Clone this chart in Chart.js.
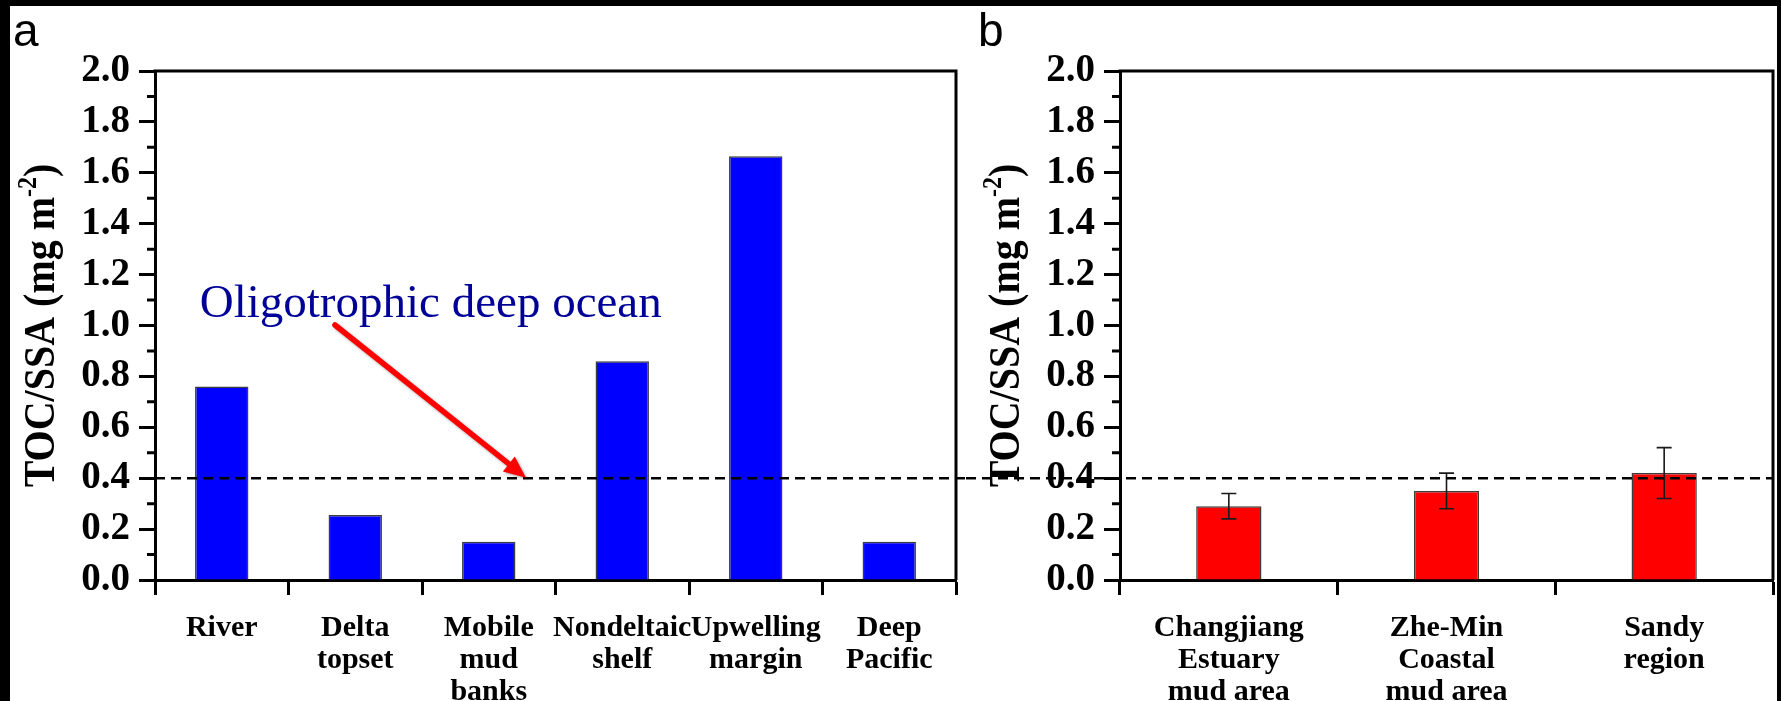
<!DOCTYPE html>
<html>
<head>
<meta charset="utf-8">
<script src="https://cdn.jsdelivr.net/npm/chart.js@4.4.1/dist/chart.umd.min.js"></script>
<style>
html, body { margin:0; padding:0; background:#000; width:1781px; height:701px; overflow:hidden; }
#sheet { position:absolute; left:10px; top:6px; width:1767px; height:695px; background:#fff; }
#ca { position:absolute; left:0; top:0; width:956px; height:695px; }
#cb { position:absolute; left:956px; top:0; width:811px; height:695px; }
</style>
</head>
<body>
<div id="sheet">
  <canvas id="ca" width="956" height="695"></canvas>
  <canvas id="cb" width="811" height="695"></canvas>
</div>
<script>
// ---------- data ----------
const categoriesA = [['River'], ['Delta', 'topset'], ['Mobile', 'mud', 'banks'], ['Nondeltaic', 'shelf'], ['Upwelling', 'margin'], ['Deep', 'Pacific']];
const valuesA = [0.76, 0.255, 0.15, 0.86, 1.665, 0.15];

const categoriesB = [['Changjiang', 'Estuary', 'mud area'], ['Zhe-Min', 'Coastal', 'mud area'], ['Sandy', 'region']];
const valuesB = [0.29, 0.35, 0.42];
const errorsB = [0.05, 0.07, 0.10];

const yMin = 0, yMax = 2.0, yStep = 0.2;
const minorTicks = [0.1, 0.3, 0.5, 0.7, 0.9, 1.1, 1.3, 1.5, 1.7, 1.9];
const thresholdValue = 0.4;

const annotationText = 'Oligotrophic deep ocean';
const annotationAnchor = [-0.165, 1.033];          // [category index, value]
const arrowFrom = [0.848, 1.002];                  // [category index, value]
const arrowTo = [2.279, 0.402];

const yTitle = ['TOC/SSA (mg m', '-2', ')'];

// ---------- styling ----------
const SERIF = "'Liberation Serif', 'Times New Roman', serif";
const SANS = "'Liberation Sans', Arial, sans-serif";

function drawYTitle(ctx, x, yc) {
  ctx.save();
  ctx.translate(x, yc);
  ctx.rotate(-Math.PI / 2);
  ctx.scale(1, 1.12);
  const mainF = 'bold 40px ' + SERIF, supF = 'bold 24px ' + SERIF;
  ctx.font = mainF;
  const w1 = ctx.measureText(yTitle[0]).width, w3 = ctx.measureText(yTitle[2]).width;
  ctx.font = supF;
  const w2 = ctx.measureText(yTitle[1]).width;
  let cx = -(w1 + w2 + w3) / 2;
  ctx.fillStyle = '#000';
  ctx.textBaseline = 'alphabetic';
  ctx.textAlign = 'left';
  ctx.font = mainF; ctx.fillText(yTitle[0], cx, 0); cx += w1;
  ctx.font = supF; ctx.fillText(yTitle[1], cx, -16); cx += w2;
  ctx.font = mainF; ctx.fillText(yTitle[2], cx, 0);
  ctx.restore();
}

function panelPlugin(cfg) {
  return {
    id: 'panel_' + cfg.letter,
    afterDatasetsDraw(chart) {
      const ctx = chart.ctx;
      const ys = chart.scales.y;
      if (cfg.errors) {
        const meta = chart.getDatasetMeta(0);
        const vals = chart.data.datasets[0].data;
        ctx.save();
        ctx.strokeStyle = '#1a1a1a';
        ctx.lineWidth = 1.6;
        meta.data.forEach((bar, i) => {
          const yt = ys.getPixelForValue(vals[i] + cfg.errors[i]);
          const yb = ys.getPixelForValue(vals[i] - cfg.errors[i]);
          const x = bar.x, hw = 7.5;
          ctx.beginPath();
          ctx.moveTo(x, yt); ctx.lineTo(x, yb);
          ctx.moveTo(x - hw, yt); ctx.lineTo(x + hw, yt);
          ctx.moveTo(x - hw, yb); ctx.lineTo(x + hw, yb);
          ctx.stroke();
        });
        ctx.restore();
      }
    },
    afterDraw(chart) {
      const ctx = chart.ctx;
      const a = chart.chartArea;
      const ys = chart.scales.y, xs = chart.scales.x;
      ctx.save();
      // frame top & right
      ctx.strokeStyle = '#000';
      ctx.lineWidth = 3;
      ctx.beginPath();
      ctx.moveTo(a.left - 1.5, a.top);
      ctx.lineTo(a.right, a.top);
      ctx.lineTo(a.right, a.bottom);
      ctx.stroke();
      // minor ticks
      ctx.lineWidth = 3;
      ctx.beginPath();
      minorTicks.forEach(v => {
        const y = ys.getPixelForValue(v);
        ctx.moveTo(a.left - 8, y); ctx.lineTo(a.left, y);
      });
      ctx.stroke();
      // threshold dashed line
      const yT = ys.getPixelForValue(thresholdValue);
      ctx.setLineDash([10, 6]);
      ctx.lineWidth = 2.5;
      ctx.beginPath();
      if (cfg.dashToCanvasEdge) { ctx.moveTo(a.left, yT); ctx.lineTo(chart.width, yT); }
      else { ctx.moveTo(0, yT); ctx.lineTo(a.right, yT); }
      ctx.stroke();
      ctx.setLineDash([]);
      // panel letter
      ctx.fillStyle = '#000';
      ctx.font = '46px ' + SANS;
      ctx.textBaseline = 'alphabetic';
      ctx.textAlign = 'left';
      ctx.fillText(cfg.letter, cfg.letterX, 40);
      // y title
      drawYTitle(ctx, cfg.titleX, (a.top + a.bottom) / 2);
      // annotation
      if (cfg.annotate) {
        ctx.font = '47px ' + SERIF;
        ctx.fillStyle = '#000099';
        ctx.fillText(annotationText, xs.getPixelForValue(annotationAnchor[0]), ys.getPixelForValue(annotationAnchor[1]));
        const x1 = xs.getPixelForValue(arrowFrom[0]), y1 = ys.getPixelForValue(arrowFrom[1]);
        const x2 = xs.getPixelForValue(arrowTo[0]), y2 = ys.getPixelForValue(arrowTo[1]);
        const ang = Math.atan2(y2 - y1, x2 - x1);
        const headLen = 22, headW = 9.5;
        const bx = x2 - headLen * Math.cos(ang), by = y2 - headLen * Math.sin(ang);
        ctx.shadowColor = 'rgba(0,0,0,0.35)';
        ctx.shadowBlur = 3;
        ctx.shadowOffsetX = 1.5;
        ctx.shadowOffsetY = 1.5;
        ctx.strokeStyle = '#ff0000';
        ctx.fillStyle = '#ff0000';
        ctx.lineWidth = 5.5;
        ctx.lineCap = 'round';
        ctx.beginPath();
        ctx.moveTo(x1, y1); ctx.lineTo(bx, by);
        ctx.stroke();
        ctx.beginPath();
        ctx.moveTo(x2, y2);
        ctx.lineTo(bx + headW * Math.sin(ang), by - headW * Math.cos(ang));
        ctx.lineTo(bx - headW * Math.sin(ang), by + headW * Math.cos(ang));
        ctx.closePath();
        ctx.fill();
      }
      ctx.restore();
    }
  };
}

function makeChart(canvas, labels, values, color, barPct, padRight, axisWidth, plugin) {
  return new Chart(canvas, {
    type: 'bar',
    data: {
      labels: labels,
      datasets: [{
        data: values,
        backgroundColor: color,
        borderColor: '#3c3c3c',
        borderWidth: 1.5,
        barPercentage: barPct,
        categoryPercentage: 1.0
      }]
    },
    options: {
      responsive: false,
      animation: false,
      devicePixelRatio: 1,
      layout: { padding: { left: 0, right: padRight, top: 65, bottom: 0 } },
      plugins: { legend: { display: false }, tooltip: { enabled: false } },
      scales: {
        x: {
          offset: true,
          grid: { display: true, offset: true, drawOnChartArea: false, drawTicks: true, tickLength: 15, tickWidth: 3, tickColor: '#000', color: '#000' },
          border: { display: true, color: '#000', width: 3 },
          ticks: {
            autoSkip: false, maxRotation: 0, minRotation: 0, padding: 17, color: '#000',
            font: { family: SERIF, size: 30, weight: 'bold', lineHeight: 1.067 }
          },
          afterFit(s) { s.height = 121; }
        },
        y: {
          min: yMin, max: yMax,
          grid: { display: true, drawOnChartArea: false, drawTicks: true, tickLength: 16, tickWidth: 3, tickColor: '#000', color: '#000' },
          border: { display: true, color: '#000', width: 3 },
          ticks: {
            stepSize: yStep, padding: 9, color: '#000',
            font: { family: SERIF, size: 39, weight: 'bold' },
            callback: v => Number(v).toFixed(1)
          },
          afterFit(s) { s.width = axisWidth; }
        }
      }
    },
    plugins: [plugin]
  });
}

makeChart(document.getElementById('ca'), categoriesA, valuesA, '#0000ff', 0.40, 10, 145,
  panelPlugin({ letter: 'a', letterX: 3, titleX: 44, dashToCanvasEdge: true, annotate: true }));
makeChart(document.getElementById('cb'), categoriesB, valuesB, '#ff0000', 0.30, 4, 154,
  panelPlugin({ letter: 'b', letterX: 12, titleX: 53, dashToCanvasEdge: false, errors: errorsB }));
</script>
</body>
</html>
